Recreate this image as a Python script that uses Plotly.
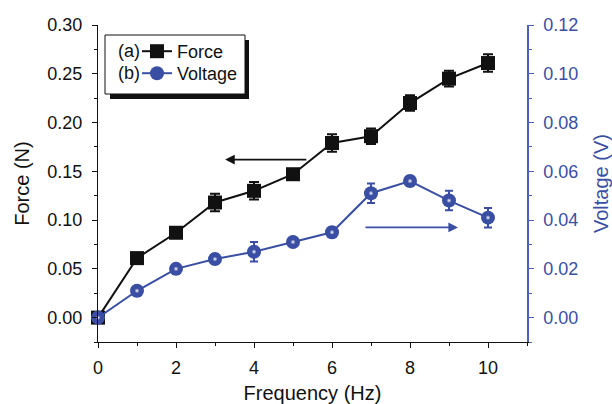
import plotly.graph_objects as go

freq = [0, 1, 2, 3, 4, 5, 6, 7, 8, 9, 10]
force = [0.0, 0.061, 0.087, 0.118, 0.130, 0.147, 0.179, 0.186, 0.220, 0.245, 0.261]
force_err = [0.004, 0.005, 0.005, 0.009, 0.009, 0.004, 0.009, 0.008, 0.008, 0.008, 0.009]
voltage = [0.0, 0.011, 0.020, 0.024, 0.027, 0.031, 0.035, 0.051, 0.056, 0.048, 0.041]
voltage_err = [0.001, 0.002, 0.002, 0.002, 0.004, 0.001, 0.002, 0.004, 0.002, 0.004, 0.004]

BLUE = "#3a4fa3"
AXBLUE = "#4a62b8"
FONT = "Liberation Sans, Arial, Helvetica, sans-serif"

# plot area in pixels (for paper-coordinate helpers)
W, H = 612, 404
L, R, T, B = 98, 85, 25, 62
PW, PH = W - L - R, H - T - B


def px(x):
    return (x - L) / PW


def py(y):
    return (H - B - y) / PH


fig = go.Figure()

fig.add_trace(go.Scatter(
    x=freq, y=force, name="Force", mode="lines+markers",
    line=dict(color="#111111", width=2),
    marker=dict(symbol="square", size=14, color="#111111"),
    error_y=dict(type="data", array=force_err, color="#111111", thickness=2, width=5),
    cliponaxis=False, yaxis="y", legend="legend",
))
fig.add_trace(go.Scatter(
    x=freq, y=voltage, name="Voltage", mode="lines+markers",
    line=dict(color=BLUE, width=2),
    marker=dict(symbol="circle", size=14, color=BLUE, line=dict(width=0)),
    error_y=dict(type="data", array=voltage_err, color=BLUE, thickness=2, width=4),
    cliponaxis=False, yaxis="y2", legend="legend2",
))
# specular highlight on the spheres
fig.add_trace(go.Scatter(
    x=freq, y=voltage, mode="markers", showlegend=False, hoverinfo="skip",
    marker=dict(symbol="circle", size=5, color=BLUE, line=dict(width=0),
                gradient=dict(type="radial", color="#ffffff")),
    cliponaxis=False, yaxis="y2",
))

# legend frame with shadow
fig.add_shape(type="rect", xref="paper", yref="paper",
              x0=px(110), x1=px(249), y0=py(99), y1=py(40),
              fillcolor="#111111", line=dict(width=0), layer="above")
fig.add_shape(type="rect", xref="paper", yref="paper",
              x0=px(105), x1=px(245), y0=py(94), y1=py(35),
              fillcolor="white", line=dict(color="#111111", width=1), layer="above")

annotations = [
    dict(text="(a)", xref="paper", yref="paper", x=px(129), y=py(51),
         xanchor="center", yanchor="middle",
         showarrow=False, font=dict(size=18, color="#111111", family=FONT)),
    dict(text="(b)", xref="paper", yref="paper", x=px(129), y=py(73),
         xanchor="center", yanchor="middle",
         showarrow=False, font=dict(size=18, color="#111111", family=FONT)),
    # arrows pointing to the relevant axes
    dict(text="", xref="x", yref="y", axref="x", ayref="y",
         x=3.26, y=0.162, ax=5.38, ay=0.162, showarrow=True,
         arrowhead=2, arrowsize=1.2, arrowwidth=1.6, arrowcolor="#111111"),
    dict(text="", xref="x", yref="y2", axref="x", ayref="y2",
         x=9.23, y=0.037, ax=6.82, ay=0.037, showarrow=True,
         arrowhead=2, arrowsize=1.2, arrowwidth=1.6, arrowcolor=BLUE),
]

legend_common = dict(xanchor="left", yanchor="top",
                     bgcolor="rgba(0,0,0,0)", borderwidth=0,
                     font=dict(size=18, family=FONT, color="#111111"),
                     itemwidth=30)

fig.update_layout(
    width=W, height=H,
    margin=dict(l=L, r=R, t=T, b=B, autoexpand=False),
    paper_bgcolor="white", plot_bgcolor="white",
    font=dict(family=FONT, size=18, color="#111111"),
    showlegend=True,
    legend=dict(x=px(137), y=py(33), **legend_common),
    legend2=dict(x=px(137), y=py(55), **legend_common),
    annotations=annotations,
    xaxis=dict(
        range=[0, 11], tickmode="linear", tick0=0, dtick=2, automargin=False,
        ticks="outside", ticklen=5, tickwidth=1.2, tickcolor="#111111",
        minor=dict(ticks="outside", ticklen=3, dtick=1, tick0=0, tickcolor="#111111"),
        showline=True, linecolor="#111111", linewidth=1.2,
        showgrid=False, zeroline=False, ticklabelstandoff=4,
        title=dict(text="Frequency (Hz)", font=dict(size=20, family=FONT), standoff=12),
        tickfont=dict(size=18, family=FONT, color="#111111"),
    ),
    xaxis2=dict(
        range=[0, 11], overlaying="x", side="top", anchor="y", matches="x",
        tickmode="linear", tick0=0, dtick=2, automargin=False,
        ticks="inside", ticklen=5, tickwidth=1.2, tickcolor="#111111",
        minor=dict(ticks="inside", ticklen=3, dtick=1, tick0=0, tickcolor="#111111"),
        showline=True, linecolor="#111111", linewidth=1.2,
        showticklabels=False, showgrid=False, zeroline=False,
    ),
    yaxis=dict(
        range=[-0.025, 0.30], tickmode="linear", tick0=0, dtick=0.05, tickformat=".2f",
        ticks="outside", ticklen=5, tickwidth=1.2, tickcolor="#111111", automargin=False,
        minor=dict(ticks="outside", ticklen=3, dtick=0.025, tick0=0, tickcolor="#111111"),
        showline=True, linecolor="#111111", linewidth=1.2,
        showgrid=False, zeroline=False, ticklabelstandoff=6,
        title=dict(text="Force (N)", font=dict(size=20, family=FONT), standoff=12),
        tickfont=dict(size=18, family=FONT, color="#111111"),
    ),
    yaxis2=dict(
        range=[-0.01, 0.12], overlaying="y", side="right", anchor="x",
        tickmode="linear", tick0=0, dtick=0.02, tickformat=".2f", automargin=False,
        ticks="outside", ticklen=5, tickwidth=1.2, tickcolor=AXBLUE,
        minor=dict(ticks="outside", ticklen=3, dtick=0.01, tick0=0, tickcolor=AXBLUE),
        showline=True, linecolor=AXBLUE, linewidth=1.5,
        showgrid=False, zeroline=False, ticklabelstandoff=6,
        title=dict(text="Voltage (V)", font=dict(size=20, family=FONT, color=BLUE), standoff=17),
        tickfont=dict(size=18, family=FONT, color=BLUE),
    ),
)

fig.write_html("out.html")
